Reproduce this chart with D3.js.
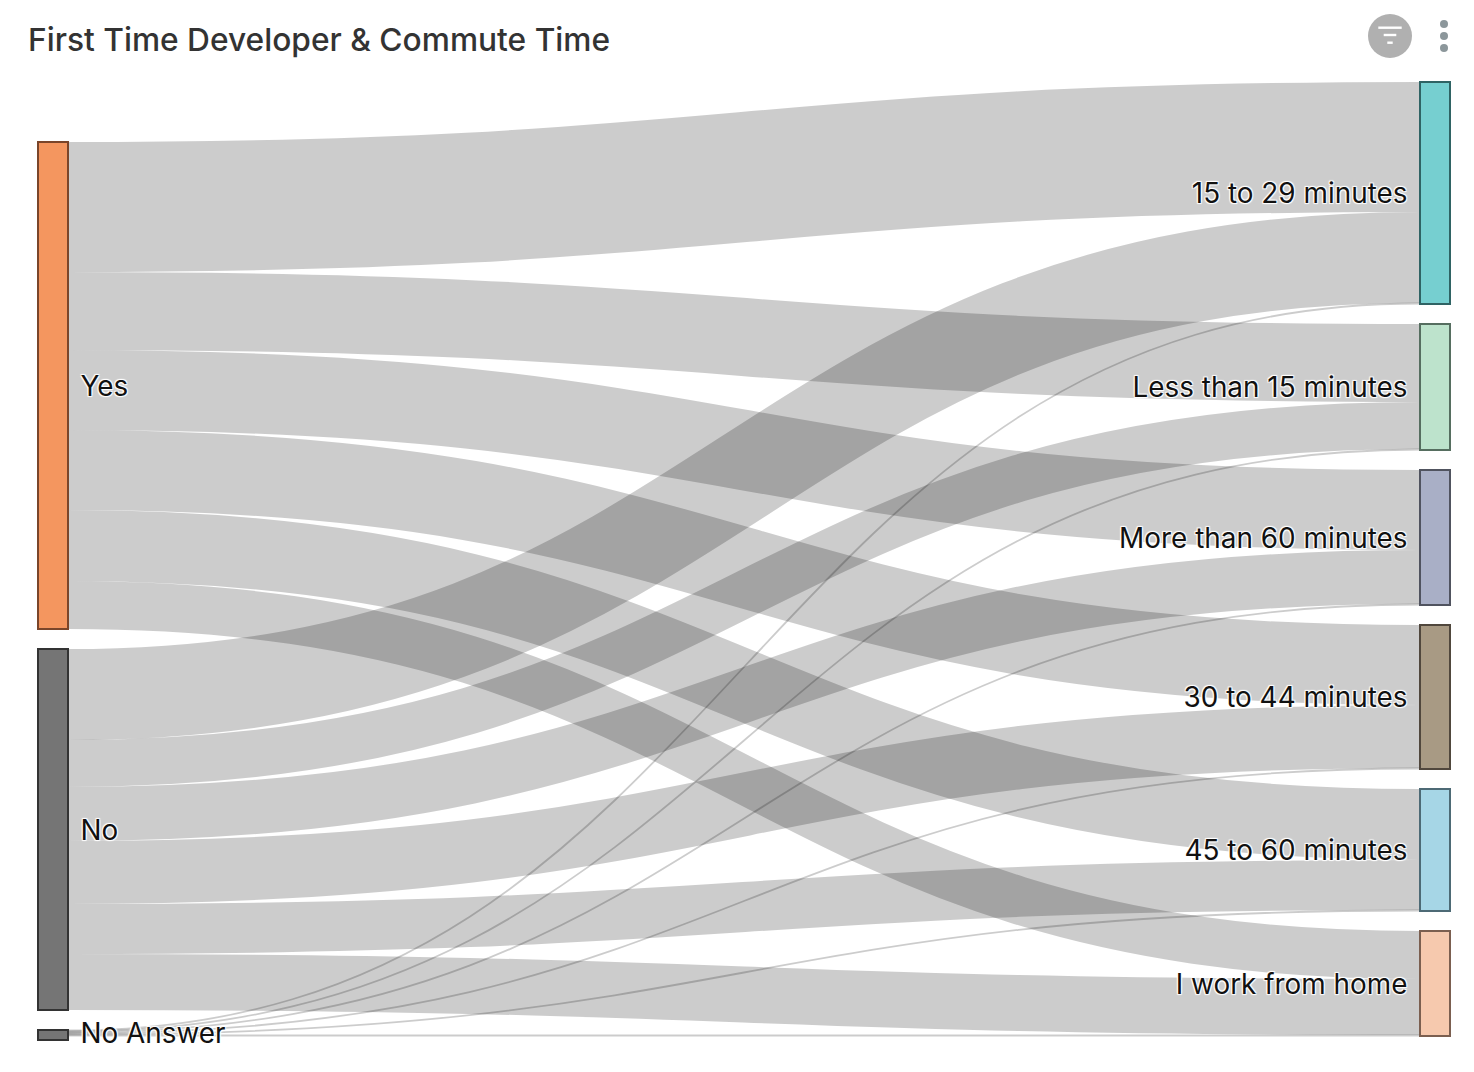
<!DOCTYPE html>
<html>
<head>
<meta charset="utf-8">
<title>First Time Developer & Commute Time</title>
<script src="https://cdn.jsdelivr.net/npm/d3@7"></script>
<style>
  html, body { margin: 0; background: #fff; }
  svg { display: block; }
  text { font-family: Inter, "Noto Sans", sans-serif; }
  .title { font-size: 31.7px; font-weight: 500; fill: #333; }
  .node-label {
    font-size: 27.9px;
    fill: #111;
    text-shadow: 1px 1px 1px #fff, -1px -1px 1px #fff, 1px -1px 1px #fff, -1px 1px 1px #fff;
  }
</style>
</head>
<body>
<div id="chart"></div>
<script>
const sources = ["Yes", "No", "No Answer"];
const targets = [
  "15 to 29 minutes",
  "Less than 15 minutes",
  "More than 60 minutes",
  "30 to 44 minutes",
  "45 to 60 minutes",
  "I work from home",
];

const yesValues = [130, 78, 80, 80, 71, 48];
const noValues = [91, 47, 54, 63, 50, 56];
const noAnswerValues = [1, 1, 1, 1, 1, 1];

const sourceColors = ["#f4965f", "#757575", "#757575"];
const sourceStrokes = ["#7a452a", "#333333", "#333333"];
const targetColors = ["#76cfd0", "#bde3cc", "#a9afc6", "#a89a84", "#a6d6e6", "#f6c9ae"];
const targetStrokes = ["#2f6364", "#566e60", "#50535f", "#50473d", "#4d6a75", "#7b5f50"];

const width = 1474;
const height = 1072;
const nodeWidth = 30;
const nodePad = 20;
const minNodeHeight = 10;
const minLinkWidth = 1.8;
const columnTop = 82;
const columnBottom = 1036;

const matrix = [yesValues, noValues, noAnswerValues];
const total = d3.sum(matrix.flat());

const x = d3.scalePoint().domain(["source", "target"]).range([38, 1420]);
const thickness = d3
  .scaleLinear()
  .domain([0, total])
  .range([0, columnBottom - columnTop - nodePad * (targets.length - 1)]);

// Stack one column from a given start, returns [{name, i, y0, y1}]
function stack(names, valuesOf, start) {
  let y = start;
  return names.map((name, i) => {
    const node = { name, i, y0: y, y1: y + thickness(d3.sum(valuesOf(i))) };
    y = node.y1 + nodePad;
    return node;
  });
}

const targetNodes = stack(targets, (j) => matrix.map((row) => row[j]), columnTop);
const sourceTotal = thickness(total) + nodePad * (sources.length - 1);
const sourceNodes = stack(sources, (i) => matrix[i], columnBottom - sourceTotal);

// Source and target offsets both follow the order of the arrays
const links = [];
const targetOffset = targetNodes.map((n) => n.y0);
sourceNodes.forEach((s) => {
  let y = s.y0;
  targets.forEach((t, j) => {
    const w = thickness(matrix[s.i][j]);
    links.push({ y0: y + w / 2, y1: targetOffset[j] + w / 2, w });
    y += w;
    targetOffset[j] += w;
  });
});

const ribbon = d3
  .linkHorizontal()
  .source((d) => [x("source") + nodeWidth, d.y0])
  .target((d) => [x("target"), d.y1]);

const svg = d3
  .select("#chart")
  .append("svg")
  .attr("width", width)
  .attr("height", height)
  .attr("viewBox", `0 0 ${width} ${height}`);

svg
  .append("text")
  .attr("class", "title")
  .attr("x", 28)
  .attr("y", 50.5)
  .text("First Time Developer & Commute Time");

// Links
svg
  .append("g")
  .attr("fill", "none")
  .attr("stroke", "#000")
  .attr("stroke-opacity", 0.2)
  .selectAll("path")
  .data(links)
  .join("path")
  .attr("d", ribbon)
  .attr("stroke-width", (d) => Math.max(d.w, minLinkWidth));

// Nodes
svg
  .append("g")
  .attr("stroke-width", 2)
  .selectAll("rect")
  .data([
    ...sourceNodes.map((n) => ({ ...n, side: "source", fill: sourceColors[n.i], stroke: sourceStrokes[n.i] })),
    ...targetNodes.map((n) => ({ ...n, side: "target", fill: targetColors[n.i], stroke: targetStrokes[n.i] })),
  ])
  .join("rect")
  .attr("x", (d) => x(d.side))
  .attr("y", (d) => d.y0)
  .attr("width", nodeWidth)
  .attr("height", (d) => Math.max(d.y1 - d.y0, minNodeHeight))
  .attr("fill", (d) => d.fill)
  .attr("stroke", (d) => d.stroke);

// Labels
const labels = svg.append("g");
labels
  .selectAll("text.source")
  .data(sourceNodes)
  .join("text")
  .attr("class", "node-label source")
  .attr("x", x("source") + nodeWidth + 12.5)
  .attr("y", (d) => (d.y0 + d.y1) / 2)
  .attr("dy", "0.36em")
  .text((d) => d.name);
labels
  .selectAll("text.target")
  .data(targetNodes)
  .join("text")
  .attr("class", "node-label target")
  .attr("x", x("target") - 12.5)
  .attr("y", (d) => (d.y0 + d.y1) / 2)
  .attr("dy", "0.36em")
  .attr("text-anchor", "end")
  .text((d) => d.name);

// Toolbar icons
const filter = svg.append("g").attr("transform", "translate(1390,36)");
filter.append("circle").attr("r", 22).attr("fill", "#b0b0b0");
filter
  .selectAll("line")
  .data([[-11.7, -8.3], [-6.3, -1], [-2.7, 6.7]])
  .join("line")
  .attr("x1", (d) => d[0])
  .attr("x2", (d) => -d[0])
  .attr("y1", (d) => d[1])
  .attr("y2", (d) => d[1])
  .attr("stroke", "#fff")
  .attr("stroke-width", 2.4);

svg
  .append("g")
  .attr("fill", "#8c979b")
  .selectAll("circle")
  .data([24, 36, 48])
  .join("circle")
  .attr("cx", 1444)
  .attr("cy", (d) => d)
  .attr("r", 4);
</script>
</body>
</html>
